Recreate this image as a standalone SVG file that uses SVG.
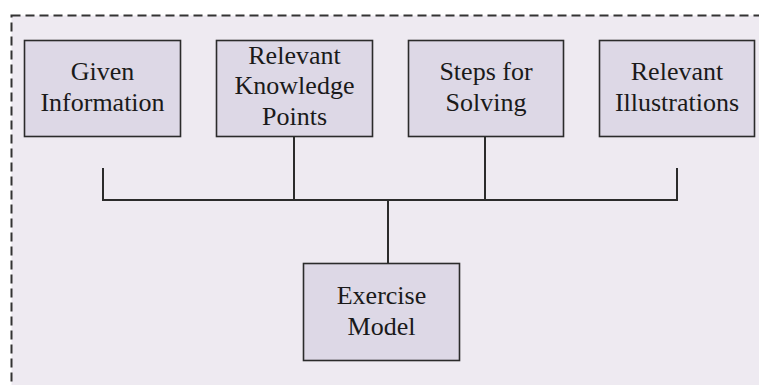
<svg xmlns="http://www.w3.org/2000/svg" width="759" height="385" viewBox="0 0 759 385">
<style>
.box{fill:#DDD8E6;stroke:#2b2b2b;stroke-width:1.6}
.t{font-family:'Liberation Serif','DejaVu Serif',serif;font-size:26px;fill:#1a1a1a;text-anchor:middle}
.c{stroke:#2b2b2b;stroke-width:2;fill:none}
</style>
<rect x="0" y="0" width="759" height="385" fill="#ffffff"/>
<rect x="11.5" y="15.5" width="770" height="400" fill="#EEEAF1" stroke="#333" stroke-width="2" stroke-dasharray="9,5"/>
<g id="connectors">
<path class="c" d="M103,168 V200 H677 V168"/>
<path class="c" d="M294,137 V200"/>
<path class="c" d="M485,137 V200"/>
<path class="c" d="M388,200 V263"/>
</g>
<g id="given">
<rect class="box" x="24.5" y="40.5" width="156" height="96"/>
<text class="t" x="102.5" y="80">Given</text>
<text class="t" x="102.5" y="111">Information</text>
</g>
<g id="knowledge">
<rect class="box" x="216.5" y="40.5" width="156" height="96"/>
<text class="t" x="294.5" y="64">Relevant</text>
<text class="t" x="294.5" y="94">Knowledge</text>
<text class="t" x="294.5" y="125">Points</text>
</g>
<g id="steps">
<rect class="box" x="408.5" y="40.5" width="155" height="96"/>
<text class="t" x="486" y="80">Steps for</text>
<text class="t" x="486" y="111">Solving</text>
</g>
<g id="illustrations">
<rect class="box" x="599.5" y="40.5" width="155" height="96"/>
<text class="t" x="677" y="80">Relevant</text>
<text class="t" x="677" y="111">Illustrations</text>
</g>
<g id="exercise">
<rect class="box" x="303.5" y="263.5" width="156" height="97"/>
<text class="t" x="381.5" y="304">Exercise</text>
<text class="t" x="381.5" y="335">Model</text>
</g>
</svg>
